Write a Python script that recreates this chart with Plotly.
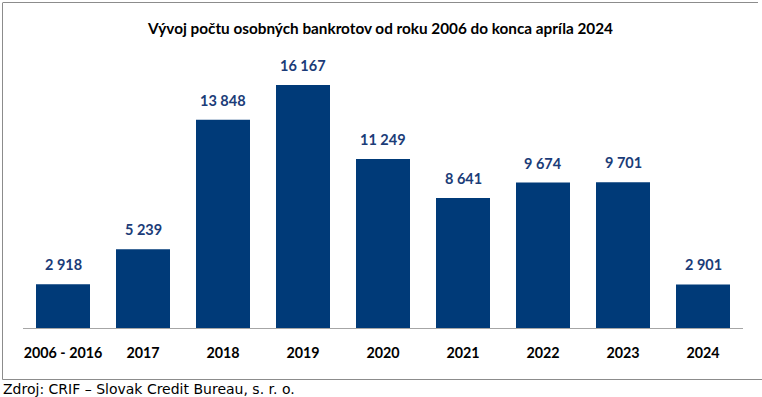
import plotly.graph_objects as go

categories = ["2006 - 2016", "2017", "2018", "2019", "2020", "2021", "2022", "2023", "2024"]
values = [2918, 5239, 13848, 16167, 11249, 8641, 9674, 9701, 2901]
value_labels = ["2 918", "5 239", "13 848", "16 167", "11 249", "8 641", "9 674", "9 701", "2 901"]
title_text = "Vývoj počtu osobných bankrotov od roku 2006 do konca apríla 2024"
source_text = "Zdroj: CRIF – Slovak Credit Bureau, s. r. o."

W, H = 762, 397
ML, MR, MT, MB = 23, 19, 60, 69
PW, PH = W - ML - MR, H - MT - MB

def px(x):
    return (x - ML) / PW

def py(y):
    return (H - MB - y) / PH

BAR = "#003A78"
LAB = "#1B3C78"
FONT = "Lato, Carlito, Calibri, sans-serif"

fig = go.Figure(go.Bar(
    x=categories, y=values,
    marker=dict(color=BAR, line=dict(width=0)),
    cliponaxis=False, hoverinfo="skip",
))

# value labels placed at each category's index position on the category axis
annotations = [
    dict(x=i, y=v, text="<b>" + t + "</b>", xref="x", yref="y", showarrow=False,
         xanchor="center", yanchor="bottom", yshift=9,
         font=dict(family=FONT, size=14.5, color=LAB))
    for i, (v, t) in enumerate(zip(values, value_labels))
]
annotations += [
    dict(text="<b>" + title_text + "</b>", xref="paper", yref="paper",
         x=px(380), y=py(28), xanchor="center", yanchor="middle", showarrow=False,
         font=dict(family=FONT, size=15.3, color="#000000")),
    dict(text=source_text, xref="paper", yref="paper",
         x=px(1), y=py(389), xanchor="left", yanchor="middle", showarrow=False,
         font=dict(family="DejaVu Sans, Verdana, sans-serif", size=14, color="#000000")),
]

fig.update_layout(
    width=W, height=H, margin=dict(l=ML, r=MR, t=MT, b=MB),
    paper_bgcolor="white", plot_bgcolor="white",
    bargap=0.325, showlegend=False,
    xaxis=dict(type="category", categoryorder="array", categoryarray=categories,
               range=[-0.5, len(categories) - 0.5],
               showgrid=False, showline=True, linecolor="#A6A6A6", linewidth=1,
               ticks="", ticklabelstandoff=12,
               tickfont=dict(family=FONT, size=14.3, color="#000000", weight="bold")),
    yaxis=dict(range=[0, 17830], visible=False, showgrid=False),
    annotations=annotations,
    shapes=[
        dict(type="line", xref="paper", yref="paper", x0=px(3), x1=px(758), y0=py(2.5), y1=py(2.5),
             line=dict(color="#8C8C8C", width=1)),
        dict(type="line", xref="paper", yref="paper", x0=px(2.5), x1=px(2.5), y0=py(2.5), y1=py(379.5),
             line=dict(color="#8C8C8C", width=1)),
        dict(type="line", xref="paper", yref="paper", x0=px(2.5), x1=px(762), y0=py(379.5), y1=py(379.5),
             line=dict(color="#8C8C8C", width=1)),
    ],
)

fig.write_html("out.html", config={"displayModeBar": False},
               post_script="document.body.style.margin='0';document.body.style.overflow='hidden';")
